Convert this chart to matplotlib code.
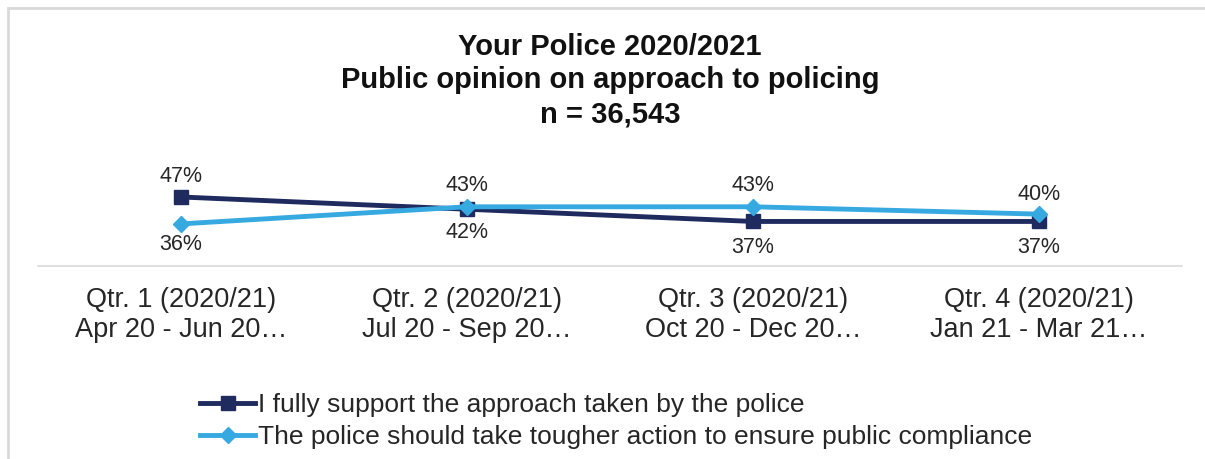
import matplotlib.pyplot as plt
from matplotlib.patches import Rectangle

plt.rcParams["font.family"] = ["Liberation Sans", "DejaVu Sans"]

quarters = ["Qtr. 1 (2020/21)\nApr 20 - Jun 20…", "Qtr. 2 (2020/21)\nJul 20 - Sep 20…",
            "Qtr. 3 (2020/21)\nOct 20 - Dec 20…", "Qtr. 4 (2020/21)\nJan 21 - Mar 21…"]
support = [47, 42, 37, 37]
tougher = [36, 43, 43, 40]
support_label = "I fully support the approach taken by the police"
tougher_label = "The police should take tougher action to ensure public compliance"

navy = "#1f2a5e"
sky = "#35a9e0"

W, H = 1205, 459
fig = plt.figure(figsize=(W / 100, H / 100), dpi=100)

# light grey frame, open on right/bottom like the cropped screenshot
fig.patches.append(Rectangle((8 / W, -0.1), 1.2, 1 - 8 / H + 0.1, transform=fig.transFigure,
                             fill=False, edgecolor="#d9d9d9", linewidth=2))

ax = fig.add_axes([38 / W, 1 - 266 / H, (1182 - 38) / W, 116 / H])
x = range(len(quarters))
ax.plot(x, support, color=navy, lw=3.5, marker="s", ms=10, label=support_label, zorder=3)
ax.plot(x, tougher, color=sky, lw=3.5, marker="D", ms=8, label=tougher_label, zorder=4)

ax.set_xlim(-0.5, len(quarters) - 0.5)
ax.set_ylim(18.8, 66.2)
ax.set_yticks([])
ax.set_xticks(list(x))
ax.set_xticklabels(quarters, fontsize=19.5, color="#262626", linespacing=1.2)
ax.tick_params(axis="x", length=0, pad=15)
for s in ["top", "right", "left"]:
    ax.spines[s].set_visible(False)
ax.spines["bottom"].set_color("#d9d9d9")
ax.spines["bottom"].set_linewidth(1.2)

# label offsets in points: + above, - below
sup_off = [15, -17, -19, -19]
tou_off = [-15, 15, 15, 14]
for i in x:
    ax.annotate(f"{support[i]}%", (i, support[i]), xytext=(0, sup_off[i]), textcoords="offset points",
                ha="center", va="center", fontsize=15.5, color="#262626")
    ax.annotate(f"{tougher[i]}%", (i, tougher[i]), xytext=(0, tou_off[i]), textcoords="offset points",
                ha="center", va="center", fontsize=15.5, color="#262626")

fig.text(610 / W, 1 - 80.5 / H, "Your Police 2020/2021\nPublic opinion on approach to policing\nn = 36,543",
         ha="center", va="center", fontsize=21, fontweight="bold", color="#111111", linespacing=1.27)

fig.legend(loc="upper left", bbox_to_anchor=(200 / W, 1 - 393 / H), frameon=False, fontsize=19,
           handlelength=2.1, handletextpad=0.1, labelspacing=0.3, borderaxespad=0, borderpad=0,
           labelcolor="#262626")

fig.savefig("out.png", dpi=100)
